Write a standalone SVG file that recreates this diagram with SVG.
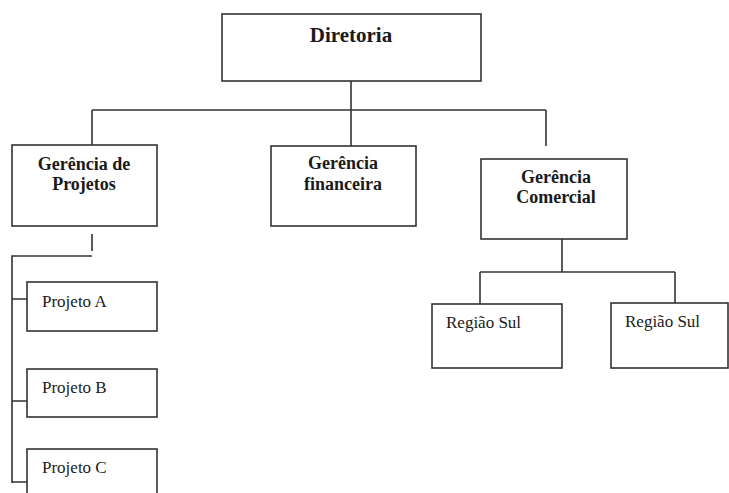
<svg xmlns="http://www.w3.org/2000/svg" width="729" height="493" viewBox="0 0 729 493">
<style>
.box{fill:#fff;stroke:#333;stroke-width:1.6}
.ln{fill:none;stroke:#333;stroke-width:1.6}
.b{font-family:"Liberation Serif",serif;font-weight:bold;fill:#1a1a1a;text-anchor:middle}
.r{font-family:"Liberation Serif",serif;fill:#1a1a1a;font-size:17px}
</style>
<rect width="729" height="493" fill="#fff"/>
<g id="connectors">
<path class="ln" d="M351 81V110M92 110H546M92 110V145M351 110V146M546 110V146"/>
<path class="ln" d="M92 234V251M92 256H12V483M12 299H28M12 401H28M12 482H28"/>
<path class="ln" d="M562 239V272M480 272H675M480 272V304M675 272V303"/>
</g>
<g id="diretoria"><rect class="box" x="222" y="14" width="259" height="67"/><text class="b" x="351" y="42" font-size="21">Diretoria</text></g>
<g id="ger-projetos"><rect class="box" x="12" y="145" width="145" height="81"/><text class="b" x="84" y="170" font-size="18">Gerência de</text><text class="b" x="84" y="190" font-size="18">Projetos</text></g>
<g id="ger-financeira"><rect class="box" x="271" y="146" width="145" height="80"/><text class="b" x="343" y="169" font-size="18">Gerência</text><text class="b" x="343" y="190" font-size="18">financeira</text></g>
<g id="ger-comercial"><rect class="box" x="481" y="159" width="146" height="80"/><text class="b" x="556" y="183" font-size="18">Gerência</text><text class="b" x="556" y="203" font-size="18">Comercial</text></g>
<g id="projeto-a"><rect class="box" x="27" y="282" width="130" height="49"/><text class="r" x="42" y="307">Projeto A</text></g>
<g id="projeto-b"><rect class="box" x="27" y="369" width="130" height="48"/><text class="r" x="42" y="393">Projeto B</text></g>
<g id="projeto-c"><rect class="box" x="27" y="449" width="130" height="60"/><text class="r" x="42" y="473">Projeto C</text></g>
<g id="regiao-sul-1"><rect class="box" x="432" y="304" width="130" height="64"/><text class="r" x="446" y="328">Região Sul</text></g>
<g id="regiao-sul-2"><rect class="box" x="611" y="303" width="117" height="65"/><text class="r" x="625" y="327">Região Sul</text></g>
</svg>
